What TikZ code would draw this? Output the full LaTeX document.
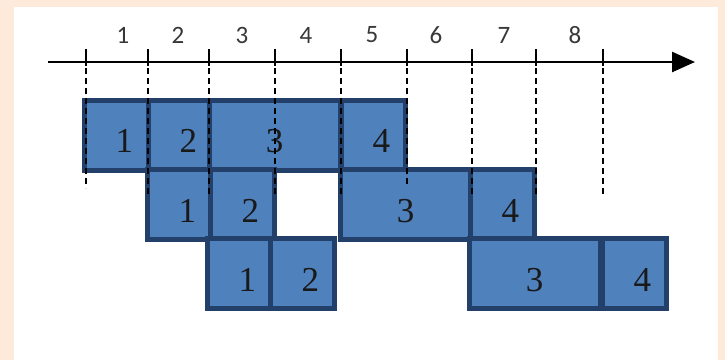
\documentclass[tikz,border=0pt]{standalone}
\usepackage{fontspec}
\setmainfont{Liberation Serif}
\newfontfamily\stagefont{Carlito}
\usetikzlibrary{arrows.meta}
\definecolor{peach}{HTML}{FDEADB}
\definecolor{segfill}{HTML}{4F81BD}
\definecolor{segline}{HTML}{23406A}
\definecolor{stagegray}{HTML}{383838}
\tikzset{
  seg/.style={draw=segline, fill=segfill, line width=5pt, outer sep=0pt,
    minimum height=70pt, inner xsep=15pt, text height=35pt, text depth=0pt,
    font=\fontsize{35}{35}\selectfont, text=black!90},
  one/.style={seg, text width=34pt, align=right},
  two/.style={seg, text width=101pt, align=center},
  tickmark/.style={line width=1.8pt},
  gridline/.style={line width=1.8pt, dash pattern=on 6pt off 4pt},
  stage/.style={font=\stagefont\fontsize{25}{25}\selectfont, text=stagegray},
}
\begin{document}
\begin{tikzpicture}[x=1pt,y=-1pt]
\fill[peach] (0,0) rectangle (725,360);
\fill[white] (14,7) rectangle (718,360);
\useasboundingbox (0,0) rectangle (725,360);
% time axis
\coordinate (axl) at (48,62);
\coordinate (axr) at (695,62);
\draw[line width=2.5pt, -{Triangle[length=23pt,width=20pt]}] (axl) -- (axr);
\node[stage] (s1) at (123,35) {1};
\node[stage] (s2) at (178,35) {2};
\node[stage] (s3) at (242,35) {3};
\node[stage] (s4) at (306,35) {4};
\node[stage] (s5) at (372,35) {5};
\node[stage] (s6) at (436,35) {6};
\node[stage] (s7) at (504,35) {7};
\node[stage] (s8) at (575,35) {8};
% first row
\node[one, anchor=west] (a1) at (84,135) {1};
\node[one, anchor=west] (a2) at (148,135) {2};
\node[two, anchor=west] (a3) at (209,135) {3};
\node[one, anchor=west] (a4) at (341,135) {4};
% second row
\node[one, anchor=west] (b1) at (147,204.5) {1};
\node[one, anchor=west] (b2) at (210,204.5) {2};
\node[two, anchor=west] (b3) at (340,204.5) {3};
\node[one, anchor=west] (b4) at (470,204.5) {4};
% third row
\node[one, anchor=west] (c1) at (207,273.5) {1};
\node[one, anchor=west] (c2) at (270,273.5) {2};
\node[two, anchor=west] (c3) at (469,273.5) {3};
\node[one, anchor=west] (c4) at (602,273.5) {4};
% ticks and dashed guides
\coordinate (k0) at (86,62);
\coordinate (k1) at (148,62);
\coordinate (k2) at (209,62);
\coordinate (k3) at (275,62);
\coordinate (k4) at (341,62);
\coordinate (k5) at (407,62);
\coordinate (k6) at (472,62);
\coordinate (k7) at (536,62);
\coordinate (k8) at (603,62);
\draw[tickmark] (k0) ++(0,-13) -- ++(0,17);
\draw[tickmark] (k1) ++(0,-13) -- ++(0,17);
\draw[tickmark] (k2) ++(0,-13) -- ++(0,17);
\draw[tickmark] (k3) ++(0,-13) -- ++(0,17);
\draw[tickmark] (k4) ++(0,-13) -- ++(0,17);
\draw[tickmark] (k5) ++(0,-13) -- ++(0,17);
\draw[tickmark] (k6) ++(0,-13) -- ++(0,17);
\draw[tickmark] (k7) ++(0,-13) -- ++(0,17);
\draw[tickmark] (k8) ++(0,-13) -- ++(0,17);
\draw[gridline] (k0) ++(0,6) -- ++(0,120);
\draw[gridline] (k1) ++(0,6) -- ++(0,129);
\draw[gridline] (k2) ++(0,6) -- ++(0,129);
\draw[gridline] (k3) ++(0,6) -- ++(0,129);
\draw[gridline] (k4) ++(0,6) -- ++(0,129);
\draw[gridline] (k5) ++(0,6) -- ++(0,118);
\draw[gridline] (k6) ++(0,6) -- ++(0,129);
\draw[gridline] (k7) ++(0,6) -- ++(0,129);
\draw[gridline] (k8) ++(0,6) -- ++(0,129);
\end{tikzpicture}
\end{document}
